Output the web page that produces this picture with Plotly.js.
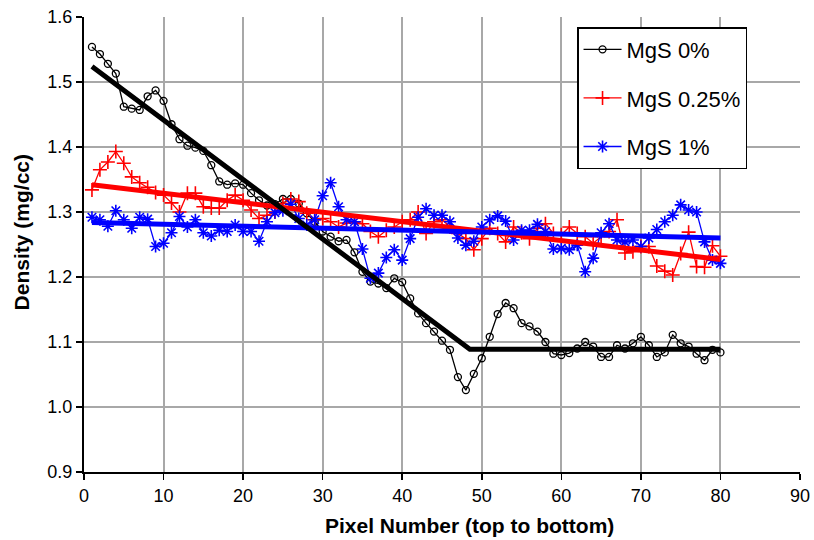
<!DOCTYPE html>
<html>
<head>
<meta charset="utf-8">
<script src="https://cdn.plot.ly/plotly-3.0.1.min.js"></script>
<style>html,body{margin:0;padding:0;background:#fff;}#chart{width:814px;height:540px;}</style>
</head>
<body>
<div id="chart"></div>
<script>
// Pixel positions (top to bottom)
const pixels = Array.from({length: 80}, (_, i) => i + 1);

// MgS 0%
const mgs0 = [1.554,1.543,1.528,1.513,1.462,1.459,1.457,1.478,1.487,1.471,
              1.435,1.412,1.402,1.399,1.394,1.372,1.347,1.342,1.344,1.342,
              1.329,1.318,1.310,1.312,1.320,1.320,1.313,1.298,1.285,1.270,
              1.262,1.255,1.257,1.238,1.208,1.193,1.190,1.183,1.198,1.192,
              1.167,1.144,1.129,1.116,1.102,1.088,1.046,1.026,1.051,1.075,
              1.108,1.143,1.160,1.152,1.129,1.124,1.116,1.100,1.082,1.080,
              1.083,1.090,1.100,1.093,1.077,1.077,1.095,1.090,1.098,1.108,
              1.095,1.077,1.084,1.111,1.098,1.093,1.082,1.072,1.088,1.084];

// MgS 0.25%
const mgs025 = [1.334,1.365,1.377,1.393,1.375,1.354,1.345,1.338,1.330,1.326,
                1.314,1.300,1.329,1.329,1.308,1.306,1.306,1.318,1.326,1.318,
                1.303,1.290,1.295,1.300,1.313,1.320,1.316,1.298,1.288,1.290,
                1.285,1.277,1.283,1.285,1.282,1.270,1.262,1.272,1.277,1.285,
                1.288,1.300,1.267,1.285,1.288,1.277,1.267,1.259,1.242,1.259,
                1.275,1.267,1.254,1.277,1.268,1.259,1.275,1.282,1.267,1.265,
                1.277,1.267,1.262,1.252,1.262,1.270,1.288,1.237,1.239,1.247,
                1.247,1.217,1.209,1.203,1.236,1.269,1.216,1.215,1.248,1.232];

// MgS 1%
const mgs1 = [1.292,1.288,1.278,1.302,1.288,1.275,1.292,1.289,1.247,1.252,
              1.268,1.293,1.277,1.288,1.268,1.263,1.272,1.270,1.280,1.270,
              1.270,1.255,1.285,1.299,1.302,1.312,1.290,1.280,1.288,1.325,
              1.345,1.308,1.288,1.285,1.243,1.198,1.206,1.230,1.242,1.226,
              1.259,1.292,1.305,1.295,1.295,1.285,1.260,1.249,1.255,1.277,
              1.288,1.294,1.286,1.257,1.272,1.272,1.281,1.270,1.243,1.244,
              1.242,1.249,1.208,1.229,1.268,1.282,1.257,1.254,1.257,1.247,
              1.260,1.273,1.285,1.295,1.311,1.303,1.300,1.254,1.226,1.221];

// Trend lines
const trend0X = [1, 48.5, 80];
const trend0Y = [1.524, 1.089, 1.089];
const trend025X = [1, 80];
const trend025Y = [1.342, 1.227];
const trend1X = [1, 80];
const trend1Y = [1.284, 1.260];

const xTicks = [0,10,20,30,40,50,60,70,80,90];
const yTicks = [0.9,1.0,1.1,1.2,1.3,1.4,1.5,1.6];
const yTickText = ['0.9','1.0','1.1','1.2','1.3','1.4','1.5','1.6'];

const FONT = 'Liberation Sans, Arial, sans-serif';

const traces = [
  {x: pixels, y: mgs0, name: 'MgS 0%', mode: 'lines+markers', legendgroup: 'a',
   line: {color: '#000000', width: 1.3},
   marker: {symbol: 'circle-open', size: 7, color: '#000000', line: {width: 1.3}}},
  {x: pixels, y: mgs025, name: 'MgS 0.25%', mode: 'lines+markers', legendgroup: 'b',
   line: {color: '#ff0000', width: 1.3},
   marker: {symbol: 'cross-thin', size: 10, color: '#ff0000', line: {width: 1.6, color: '#ff0000'}}},
  {x: pixels, y: mgs1, name: 'MgS 1%', mode: 'lines+markers', legendgroup: 'c',
   line: {color: '#0000ff', width: 1.3},
   marker: {symbol: 'asterisk', size: 10, color: '#0000ff', line: {width: 1.6, color: '#0000ff'}}},
  {x: trend025X, y: trend025Y, mode: 'lines', showlegend: false, hoverinfo: 'skip',
   line: {color: '#ff0000', width: 5}},
  {x: trend1X, y: trend1Y, mode: 'lines', showlegend: false, hoverinfo: 'skip',
   line: {color: '#0000ff', width: 5}},
  {x: trend0X, y: trend0Y, mode: 'lines', showlegend: false, hoverinfo: 'skip',
   line: {color: '#000000', width: 5}}
];

const layout = {
  width: 814, height: 540,
  margin: {l: 84, r: 14, t: 17, b: 68},
  paper_bgcolor: '#ffffff', plot_bgcolor: '#ffffff',
  font: {family: FONT, color: '#000000', size: 18},
  showlegend: true,
  legend: {
    x: 0.6886, y: 0.978, xanchor: 'left', yanchor: 'top',
    bgcolor: '#ffffff', bordercolor: '#000000', borderwidth: 1.5,
    font: {family: FONT, size: 22, color: '#000000'},
    itemwidth: 38,
    traceorder: 'grouped', tracegroupgap: 17
  },
  xaxis: {
    range: [0, 90], tickmode: 'array', tickvals: xTicks,
    showgrid: true, gridcolor: '#a8a8a8', gridwidth: 2,
    showline: true, linecolor: '#000000', linewidth: 2,
    ticks: 'outside', ticklen: 6, tickwidth: 1.5, tickcolor: '#000000',
    tickfont: {family: FONT, size: 18, color: '#000000'},
    zeroline: false
  },
  yaxis: {
    range: [0.9, 1.6], tickmode: 'array', tickvals: yTicks, ticktext: yTickText,
    showgrid: true, gridcolor: '#a8a8a8', gridwidth: 2,
    showline: true, linecolor: '#000000', linewidth: 2,
    ticks: 'outside', ticklen: 6, tickwidth: 1.5, tickcolor: '#000000',
    tickfont: {family: FONT, size: 18, color: '#000000'},
    zeroline: false
  },
  annotations: [
    {text: '<b>Pixel Number (top to bottom)</b>', xref: 'paper', yref: 'paper',
     x: 0.539, y: -0.088, xanchor: 'center', yanchor: 'top', showarrow: false,
     font: {family: FONT, size: 21, color: '#000000'}},
    {text: '<b>Density (mg/cc)</b>', xref: 'paper', yref: 'paper',
     x: -0.087, y: 0.526, xanchor: 'center', yanchor: 'middle', showarrow: false,
     textangle: -90, font: {family: FONT, size: 21, color: '#000000'}}
  ]
};

Plotly.newPlot('chart', traces, layout, {displayModeBar: false, staticPlot: true});
</script>
</body>
</html>
